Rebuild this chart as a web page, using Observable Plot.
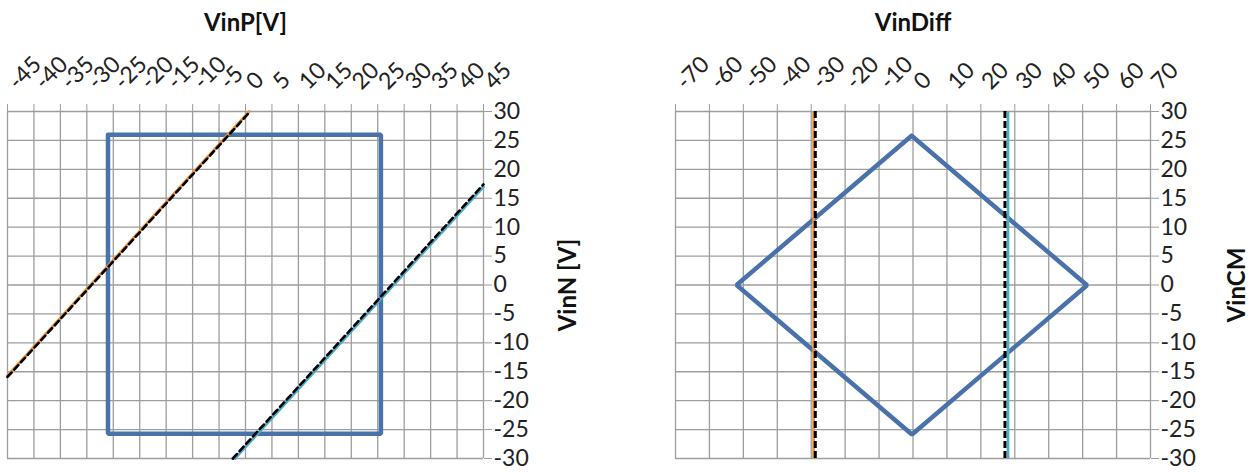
<!DOCTYPE html>
<html>
<head>
<meta charset="utf-8">
<script src="https://cdn.jsdelivr.net/npm/d3@7"></script>
<script src="https://cdn.jsdelivr.net/npm/@observablehq/plot@0.6"></script>
<style>
  html, body { margin: 0; padding: 0; background: #fff; }
  #wrap { position: relative; width: 1257px; height: 472px; }
  #left, #right { position: absolute; top: 0; }
  #left { left: 0; }
  #right { left: 628px; }
</style>
</head>
<body>
<div id="wrap"><div id="left"></div><div id="right"></div></div>
<script>
// ---- Data ----
const leftXTicks = [-45,-40,-35,-30,-25,-20,-15,-10,-5,0,5,10,15,20,25,30,35,40,45];
const rightXTicks = [-70,-60,-50,-40,-30,-20,-10,0,10,20,30,40,50,60,70];
const yTicks = [-30,-25,-20,-15,-10,-5,0,5,10,15,20,25,30];

// Left panel: VinP vs VinN
const rectVinP = [-26, 25.6, 25.6, -26, -26];
const rectVinN = [26, 26, -25.7, -25.7, 26];
const orangeVinP = [-45, 0.7];
const orangeVinN = [-15.7, 30];
const orangeDashVinP = [-45, 0.9];
const orangeDashVinN = [-15.9, 30];
const cyanVinP = [-2, 45];
const cyanVinN = [-30, 17];
const cyanDashVinP = [-2.4, 45];
const cyanDashVinN = [-30, 17.4];

// Right panel: VinDiff vs VinCM
const diamondDiff = [-0.4, 51.3, -0.3, -52, -0.4];
const diamondCM = [25.8, -0.05, -25.85, 0, 25.8];
const orangeDiff = -29.3;
const orangeDashDiff = -28.8;
const cyanDiff = 28.0;
const cyanDashDiff = 27.1;

const titles = {leftX: "VinP[V]", leftY: "VinN [V]", rightX: "VinDiff", rightY: "VinCM"};

// ---- Styles ----
const BLUE = "#4a72aa", ORANGE = "#f0913f", CYAN = "#4bacc6", GRID = "#9d9d9d";
const toPts = (xs, ys) => xs.map((x, i) => ({x, y: ys[i]}));
const fmt = d => String(d);
const style = {fontFamily: "Lato, 'Open Sans', sans-serif", fontSize: "23px", color: "#222", background: "#fff", overflow: "visible"};

function panel({width, marginLeft, marginRight, xDomain, xTicks, xTitle, yTitle, yTitleDx, marks}) {
  return Plot.plot({
    width, height: 472,
    marginTop: 111, marginBottom: 14, marginLeft, marginRight,
    style,
    x: {domain: xDomain},
    y: {domain: [-30, 30]},
    marks: [
      Plot.gridX(xTicks, {stroke: GRID, strokeOpacity: 1, strokeWidth: 1.3}),
      Plot.gridY(yTicks, {stroke: GRID, strokeOpacity: 1, strokeWidth: 1.3}),
      Plot.axisX({anchor: "top", ticks: xTicks, tickSize: 8, stroke: GRID, label: null, text: null}),
      Plot.axisX({anchor: "top", ticks: xTicks, tickFormat: fmt, tickRotate: -45, tickSize: 0, tickPadding: 26, dx: 5, label: null}),
      Plot.axisY({anchor: "right", ticks: yTicks, tickFormat: fmt, tickSize: 8, tickPadding: 2, stroke: GRID, label: null}),
      ...marks,
      Plot.text([xTitle], {frameAnchor: "top", dy: -88, text: d => d, fontWeight: "bold", fontSize: 24, fill: "#111", textAnchor: "middle", lineAnchor: "middle"}),
      Plot.text([yTitle], {frameAnchor: "right", dx: yTitleDx, text: d => d, rotate: -90, fontWeight: "bold", fontSize: 24, fill: "#111", textAnchor: "middle"})
    ]
  });
}

const dashDiag = {stroke: "#000", strokeWidth: 2.6, strokeDasharray: "6,4"};
const dashVert = {stroke: "#000", strokeWidth: 3, strokeDasharray: "7,3"};

const left = panel({
  width: 628, marginLeft: 7, marginRight: 145,
  xDomain: [-45, 45], xTicks: leftXTicks,
  xTitle: titles.leftX, yTitle: titles.leftY, yTitleDx: 85,
  marks: [
    Plot.line(toPts(rectVinP, rectVinN), {x: "x", y: "y", stroke: BLUE, strokeWidth: 4.5, strokeLinejoin: "miter"}),
    Plot.line(toPts(orangeVinP, orangeVinN), {x: "x", y: "y", stroke: ORANGE, strokeWidth: 2.8}),
    Plot.line(toPts(cyanVinP, cyanVinN), {x: "x", y: "y", stroke: CYAN, strokeWidth: 2.8}),
    Plot.line(toPts(orangeDashVinP, orangeDashVinN), {x: "x", y: "y", ...dashDiag}),
    Plot.line(toPts(cyanDashVinP, cyanDashVinN), {x: "x", y: "y", ...dashDiag})
  ]
});

const right = panel({
  width: 629, marginLeft: 47, marginRight: 107,
  xDomain: [-70, 70], xTicks: rightXTicks,
  xTitle: titles.rightX, yTitle: titles.rightY, yTitleDx: 87,
  marks: [
    Plot.line(toPts(diamondDiff, diamondCM), {x: "x", y: "y", stroke: BLUE, strokeWidth: 4.5, strokeLinejoin: "miter"}),
    Plot.ruleX([orangeDiff], {stroke: ORANGE, strokeWidth: 2.7}),
    Plot.ruleX([cyanDiff], {stroke: CYAN, strokeWidth: 2.7}),
    Plot.ruleX([orangeDashDiff], dashVert),
    Plot.ruleX([cyanDashDiff], dashVert)
  ]
});

document.getElementById("left").appendChild(left);
document.getElementById("right").appendChild(right);
</script>
</body>
</html>
